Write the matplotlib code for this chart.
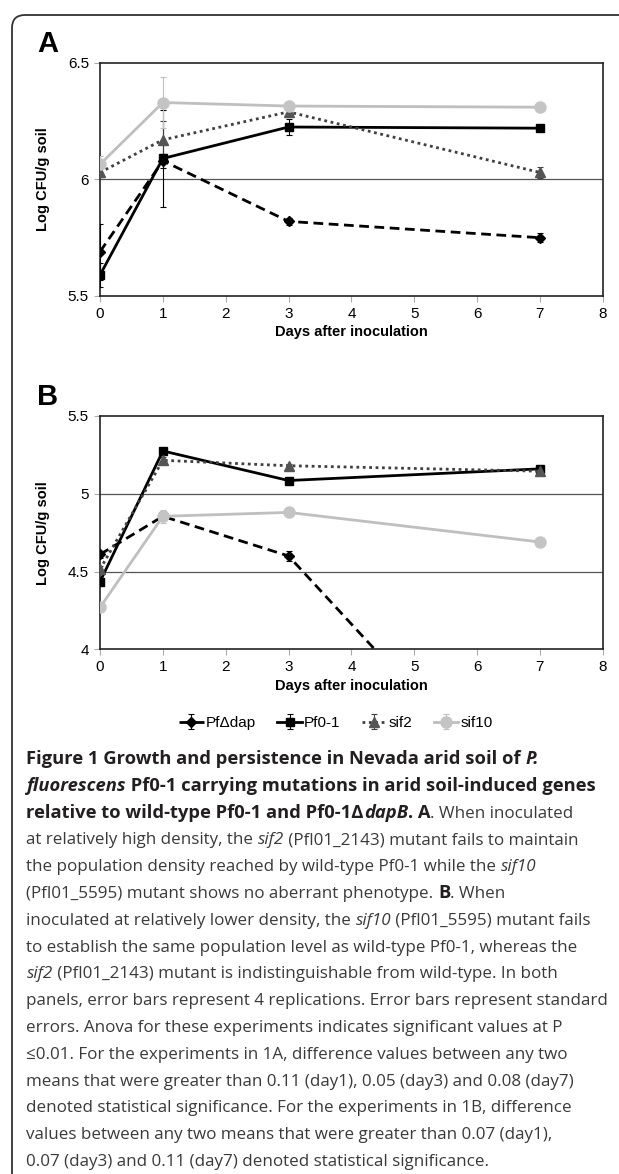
import matplotlib
matplotlib.use('Agg')
import matplotlib.pyplot as plt
import matplotlib.patches as patches

plt.rcParams['font.family'] = ['Liberation Sans', 'DejaVu Sans']

days = [0, 1, 3, 7]

# panel A, log CFU/g soil
a_dap = [5.69, 6.08, 5.82, 5.75]
a_pf01 = [5.59, 6.09, 6.225, 6.22]
a_sif2 = [6.03, 6.17, 6.29, 6.03]
a_sif10 = [6.065, 6.33, 6.315, 6.31]
a_dap_err = [0.12, 0.03, 0.015, 0.02]
a_pf01_err = [0.05, 0.21, 0.035, 0.01]
a_sif2_err = [0.02, 0.08, 0.02, 0.025]
a_sif10_err = [0.035, 0.11, 0.01, 0.01]

# panel B
b_dap = [4.61, 4.855, 4.60, 2.85]
b_pf01 = [4.435, 5.275, 5.085, 5.16]
b_sif2 = [4.515, 5.215, 5.18, 5.145]
b_sif10 = [4.27, 4.855, 4.88, 4.69]
b_dap_err = [0.02, 0.03, 0.03, 0.02]
b_pf01_err = [0.02, 0.015, 0.01, 0.01]
b_sif2_err = [0.02, 0.02, 0.01, 0.01]
b_sif10_err = [0.01, 0.04, 0.01, 0.01]

labels = ['Pf\u0394dap', 'Pf0-1', 'sif2', 'sif10']

styles = [
    dict(color='black', ls=(0, (3.5, 2)), marker='D', ms=5.5, mfc='black', mec='black'),
    dict(color='black', ls='-', marker='s', ms=6, mfc='black', mec='black'),
    dict(color='#404040', ls=(0, (1, 1.3)), marker='^', ms=7.5, mfc='#555555', mec='#555555'),
    dict(color='#bfbfbf', ls='-', marker='o', ms=8, mfc='#c4c4c4', mec='#c4c4c4'),
]

fig = plt.figure(figsize=(6.19, 11.74), dpi=100)

# rounded frame (left and top edges visible)
frame = patches.FancyBboxPatch((0.12, -1.0), 10.0, 12.59,
                               boxstyle='round,pad=0,rounding_size=0.13',
                               transform=fig.dpi_scale_trans, fill=False,
                               edgecolor='#333333', lw=1.3, clip_on=False)
fig.patches.append(frame)


def setup_axes(ax, ylim, yticks, yticklabels, grid):
    ax.set_xlim(0, 8)
    ax.set_ylim(*ylim)
    ax.set_xticks(range(9))
    ax.set_yticks(yticks)
    ax.set_yticklabels(yticklabels)
    ax.tick_params(axis='both', direction='out', length=4, width=0.8,
                   color='#aaaaaa', labelsize=11, pad=4)
    for s in ax.spines.values():
        s.set_linewidth(1.2)
        s.set_color('#222222')
    for g in grid:
        ax.axhline(g, color='#555555', lw=0.9, zorder=1)
    ax.set_xlabel('Days after inoculation', fontsize=10.5, fontweight='bold', labelpad=3)


def draw_panel(ax, series, errs):
    for vals, err, st, lab in zip(series, errs, styles, labels):
        ax.errorbar(days, vals, yerr=err, color=st['color'], ls=st['ls'], lw=2,
                    marker=st['marker'], ms=st['ms'], mfc=st['mfc'], mec=st['mec'],
                    ecolor=st['color'], elinewidth=0.8, capsize=2, capthick=0.8,
                    label=lab, zorder=3, clip_on=True)


axA = fig.add_axes([0.1616, 0.7479, 0.8121, 0.1985])
setup_axes(axA, (5.5, 6.5), [5.5, 6.0, 6.5], ['5.5', '6', '6.5'], [6.0])
draw_panel(axA, [a_dap, a_pf01, a_sif2, a_sif10],
           [a_dap_err, a_pf01_err, a_sif2_err, a_sif10_err])

axB = fig.add_axes([0.1616, 0.4469, 0.8121, 0.1988])
setup_axes(axB, (4.0, 5.5), [4.0, 4.5, 5.0, 5.5], ['4', '4.5', '5', '5.5'], [4.5, 5.0])
draw_panel(axB, [b_dap, b_pf01, b_sif2, b_sif10],
           [b_dap_err, b_pf01_err, b_sif2_err, b_sif10_err])

for ax, letter in [(axA, 'A'), (axB, 'B')]:
    pos = ax.get_position()
    fig.text(0.0598, pos.y1 + 0.004, letter, fontsize=21, fontweight='bold',
             ha='left', va='bottom')
    fig.text(0.07, (pos.y0 + pos.y1) / 2, 'Log CFU/g soil', fontsize=10.5,
             fontweight='bold', rotation=90, ha='center', va='center')

handles, labs = axB.get_legend_handles_labels()
fig.legend(handles, labs, loc='center', bbox_to_anchor=(0.543, 0.384), ncol=4,
           frameon=False, fontsize=11, handlelength=1.6, handletextpad=0.15,
           columnspacing=1.4)

# caption, built as runs of (text, weight, style)
B, BI, N, I = ('bold', 'normal'), ('bold', 'italic'), ('normal', 'normal'), ('normal', 'italic')
caption = [
    [("Figure 1 Growth and persistence in Nevada arid soil of ", B), ("P.", BI)],
    [("fluorescens", BI), (" Pf0-1 carrying mutations in arid soil-induced genes", B)],
    [("relative to wild-type Pf0-1 and Pf0-1\u0394", B), ("dapB", BI), (". A", B), (". When inoculated", N)],
    [("at relatively high density, the ", N), ("sif2", I), (" (Pfl01_2143) mutant fails to maintain", N)],
    [("the population density reached by wild-type Pf0-1 while the ", N), ("sif10", I)],
    [("(Pfl01_5595) mutant shows no aberrant phenotype. ", N), ("B", B), (". When", N)],
    [("inoculated at relatively lower density, the ", N), ("sif10", I), (" (Pfl01_5595) mutant fails", N)],
    [("to establish the same population level as wild-type Pf0-1, whereas the", N)],
    [("sif2", I), (" (Pfl01_2143) mutant is indistinguishable from wild-type. In both", N)],
    [("panels, error bars represent 4 replications. Error bars represent standard", N)],
    [("errors. Anova for these experiments indicates significant values at P", N)],
    [("\u22640.01. For the experiments in 1A, difference values between any two", N)],
    [("means that were greater than 0.11 (day1), 0.05 (day3) and 0.08 (day7)", N)],
    [("denoted statistical significance. For the experiments in 1B, difference", N)],
    [("values between any two means that were greater than 0.07 (day1),", N)],
    [("0.07 (day3) and 0.11 (day7) denoted statistical significance.", N)],
]

renderer = fig.canvas.get_renderer()
W, H = 619.0, 1174.0
x_start = 26.5
base0 = 764.0
step = 26.8
for i, runs in enumerate(caption):
    x = x_start
    y = base0 + i * step
    for txt, (wt, sty) in runs:
        col = '#231f20' if wt == 'bold' else '#3a3a3a'
        size = 13.2 if wt == 'bold' else 12.25
        t = fig.text(x / W, 1 - y / H, txt, fontsize=size, fontweight=wt, fontstyle=sty,
                     family=['Open Sans', 'DejaVu Sans'], color=col,
                     ha='left', va='baseline')
        x += t.get_window_extent(renderer).width

fig.savefig('out.png', dpi=100)
